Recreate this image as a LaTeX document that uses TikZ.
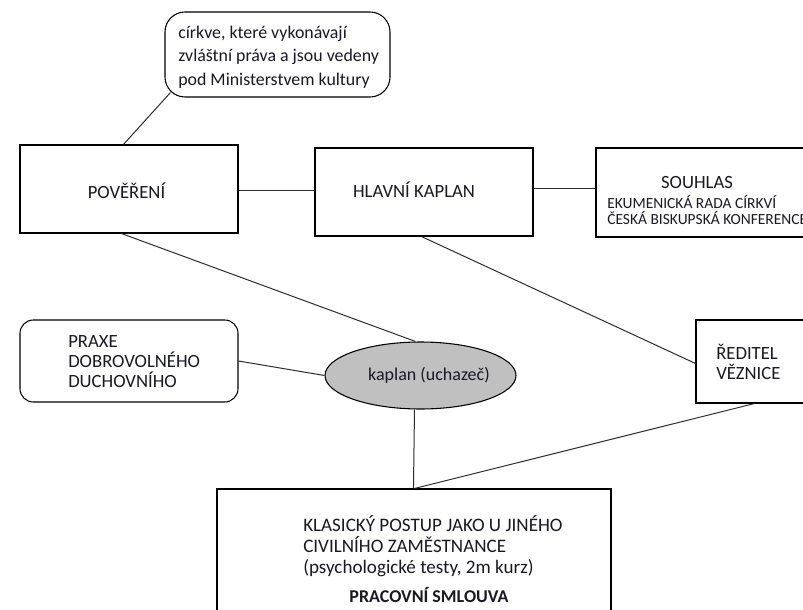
\documentclass[tikz,border=0pt]{standalone}
\usepackage{fontspec}
\setmainfont{Carlito}
\usetikzlibrary{shapes.geometric,calc}
\definecolor{txt}{RGB}{25,25,35}
\definecolor{ln}{RGB}{45,45,45}
\definecolor{ellfill}{RGB}{192,192,192}
\begin{document}
\begin{tikzpicture}[x=0.75pt,y=-0.75pt,
  box/.style={draw=black,line width=0.8pt,rectangle,inner sep=0pt,fill=white},
  rbox/.style={box,rounded corners=#1},
  conn/.style={draw=ln,line width=0.75pt},
  lbl/.style={text=txt,inner sep=0pt,font=\fontsize{14}{15}\selectfont},
]
\useasboundingbox (0,0) rectangle (803,610);
\clip (0,0) rectangle (803,610);
\fill[white] (0,0) rectangle (803,610);

% boxes
\node[rbox=15pt,minimum width=168.75pt,minimum height=63.75pt] (call) at (277.5,54.5) {};
\node[box,minimum width=163.5pt,minimum height=66pt] (pov) at (129,189) {};
\node[box,minimum width=163.5pt,minimum height=66pt] (hk) at (424,192) {};
\node[box,minimum width=175.5pt,minimum height=66.75pt] (sou) at (713,192.5) {};
\node[rbox=10pt,minimum width=163.5pt,minimum height=61.5pt] (praxe) at (129,361) {};
\node[ellipse,draw=black,line width=0.8pt,fill=ellfill,inner sep=0pt,minimum width=143.25pt,minimum height=50.25pt] (ell) at (420.5,375.5) {};
\node[box,minimum width=108pt,minimum height=62.25pt] (red) at (768,361.5) {};
\node[box,minimum width=295.5pt,minimum height=113.25pt] (bot) at (414,564.5) {};

% connectors
\draw[conn] ($(call.south west)+(6,-5)$) -- ($(pov.north west)+(104,0)$);
\draw[conn] (pov.east |- 0,190) -- (hk.west |- 0,190);
\draw[conn] (hk.east |- 0,188) -- (sou.west |- 0,188);
\draw[conn] ($(pov.south west)+(102,0)$) -- ($(ell.north)+(-5,0)$);
\draw[conn] ($(hk.south west)+(107,0)$) -- ($(red.north west)+(0,44)$);
\draw[conn] (praxe.east) -- (ell.west);
\draw[conn] ($(ell.south)+(-6,0)$) -- ($(bot.north west)+(197,0)$);
\draw[conn] ($(red.south west)+(59,0)$) -- ($(bot.north west)+(198,0)$);

% texts
\node[lbl,anchor=west,align=left,font=\fontsize{13.4}{17.5}\selectfont] (calltxt) at (178,57)
  {církve, které vykonávají\\zvláštní práva a jsou vedeny\\pod Ministerstvem kultury};
\node[lbl] (povtxt) at (126.5,191) {POVĚŘENÍ};
\node[lbl] (hktxt) at (414,190) {HLAVNÍ KAPLAN};
\node[lbl] (soutxt) at (697,183) {SOUHLAS};
\node[lbl,anchor=west,align=left,font=\fontsize{11.6}{11.5}\selectfont] (soutxt2) at (607,210)
  {EKUMENICKÁ RADA CÍRKVÍ\\ČESKÁ BISKUPSKÁ KONFERENCE};
\node[lbl,anchor=west,align=left] (praxetxt) at (68,362)
  {PRAXE\\DOBROVOLNÉHO\\DUCHOVNÍHO};
\node[lbl,font=\fontsize{13.5}{15}\selectfont] (elltxt) at (429,375) {kaplan (uchazeč)};
\node[lbl,anchor=west,align=left,font=\fontsize{14}{14.5}\selectfont] (redtxt) at (716,362)
  {ŘEDITEL\\VĚZNICE};
\node[lbl,anchor=west,align=left,font=\fontsize{14.3}{15.75}\selectfont] (bottxt) at (303,546)
  {KLASICKÝ POSTUP JAKO U JINÉHO\\CIVILNÍHO ZAMĚSTNANCE\\(psychologické testy, 2m kurz)};
\node[lbl,font=\bfseries\fontsize{13.5}{15}\selectfont] (bottxt2) at (429,595) {PRACOVNÍ SMLOUVA};
\end{tikzpicture}
\end{document}
